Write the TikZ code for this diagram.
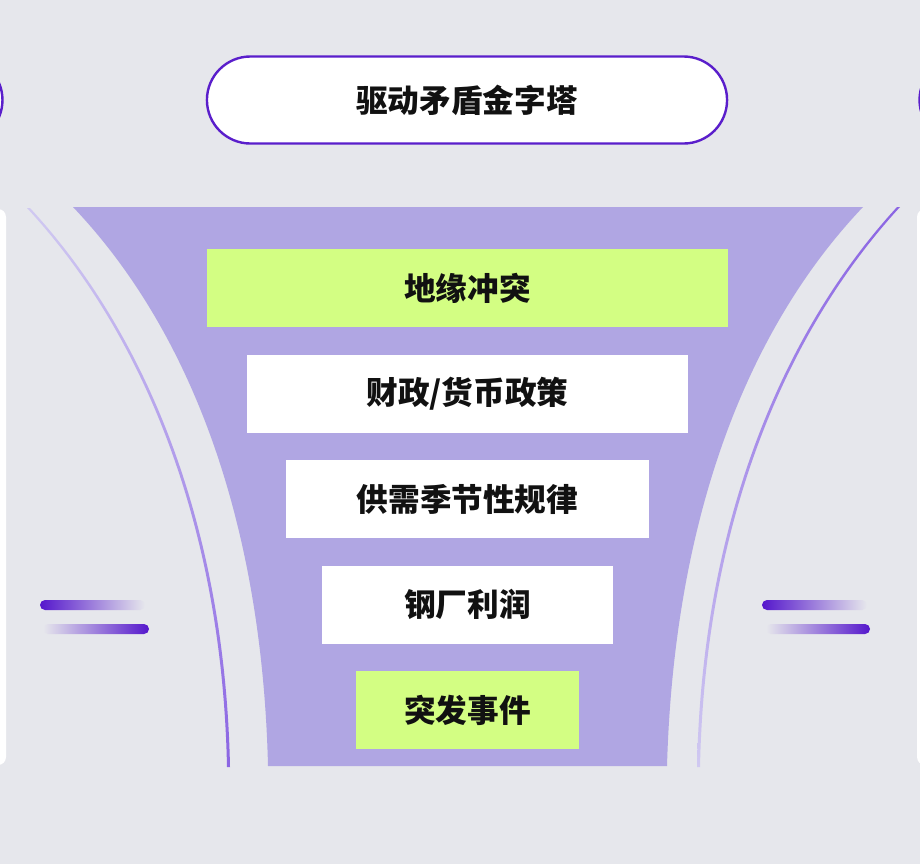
\documentclass[tikz,border=0pt]{standalone}
\usepackage{fontspec}
\usepackage{xcolor}
\usetikzlibrary{positioning}
\newfontfamily\cjk{Noto Sans CJK SC}
\definecolor{canvas}{HTML}{E6E7EC}
\definecolor{funnel}{HTML}{B0A6E3}
\definecolor{lime}{HTML}{D3FE83}
\definecolor{violet}{HTML}{5A1ECB}
\definecolor{bardark}{HTML}{5517CC}
\definecolor{linedark}{HTML}{8B65E3}
\definecolor{linelight}{HTML}{D0C9F1}
\definecolor{ink}{HTML}{111111}
\tikzset{
  titlepill/.style={
    rounded corners=1.0875cm,
    fill=white,
    draw=violet,
    line width=0.06cm,
    minimum width=13cm,
    minimum height=2.175cm,
    inner sep=0cm,
    font=\cjk\bfseries\fontsize{22.5}{24}\selectfont,
    text=ink
  },
  layer/.style={
    fill=white,
    inner sep=0cm,
    minimum height=1.95cm,
    font=\cjk\bfseries\fontsize{22.5}{24}\selectfont,
    text=ink
  },
  hot/.style={layer, fill=lime},
  sidepanel/.style={fill=white, rounded corners=0.2cm}
}

\begin{document}
\begin{tikzpicture}[x=0.025cm,y=-0.025cm]
  \useasboundingbox (0,0) rectangle (920,864);
  \clip (0,0) rectangle (920,864);
  \fill[canvas] (0,0) rectangle (920,864);
  \fill[sidepanel] (-20,209) rectangle (6,765);
  \fill[sidepanel] (917,209) rectangle (940,765);

  \node[titlepill] (title) at (467,100) {驱动矛盾金字塔};
  \node[titlepill,left=5.05cm of title] (prevpill) {};
  \node[titlepill,right=4.75cm of title] (nextpill) {};

  \fill[funnel] (73,207) .. controls (190,330) and (262,520) .. (268,766)
    -- (667,766) .. controls (674,520) and (746,330) .. (863,207) -- cycle;

  \shade[top color=linelight, bottom color=linedark]
    (27,208) .. controls (140,330) and (222,520) .. (227,767)
    -- (230,767) .. controls (225,520) and (143,330) .. (30,208) -- cycle;
  \shade[top color=linedark, bottom color=linelight]
    (897,207) .. controls (784,330) and (702,520) .. (697,767)
    -- (700,767) .. controls (705,520) and (787,330) .. (900,207) -- cycle;

  \shade[left color=bardark, right color=canvas, rounded corners=0.125cm] (40,600) rectangle (145,610);
  \shade[left color=canvas, right color=bardark, rounded corners=0.125cm] (43,624) rectangle (149,634);
  \shade[left color=bardark, right color=canvas, rounded corners=0.125cm] (762,600) rectangle (867,610);
  \shade[left color=canvas, right color=bardark, rounded corners=0.125cm] (766,624) rectangle (870,634);

  \node[hot,minimum width=13.025cm] (geo) at (467.5,288) {地缘冲突};
  \node[layer,minimum width=11.025cm,below=0.675cm of geo] (policy) {财政/货币政策};
  \node[layer,minimum width=9.075cm,below=0.675cm of policy] (season) {供需季节性规律};
  \node[layer,minimum width=7.25cm,below=0.675cm of season] (profit) {钢厂利润};
  \node[hot,minimum width=5.575cm,below=0.675cm of profit] (event) {突发事件};
\end{tikzpicture}
\end{document}
